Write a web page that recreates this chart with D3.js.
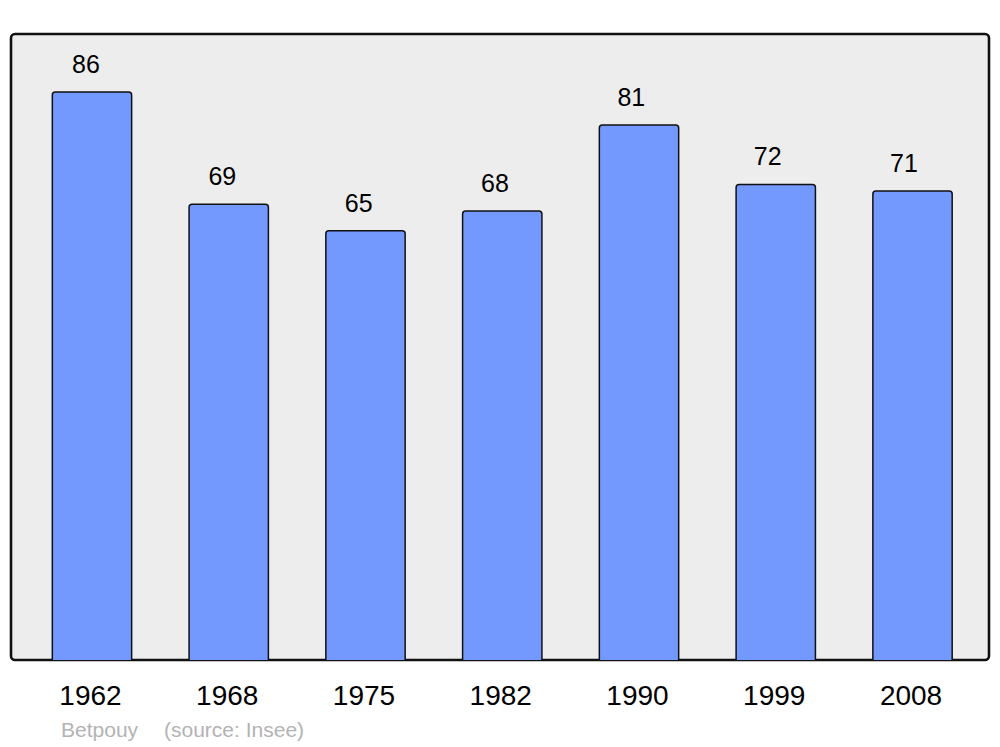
<!DOCTYPE html>
<html><head><meta charset="utf-8">
<script src="https://cdn.jsdelivr.net/npm/d3@7"></script>
<style>body{margin:0;background:#fff}svg{display:block;font-family:"Liberation Sans",Arial,sans-serif}</style>
</head><body><svg id="c" width="1000" height="747"></svg>
<script>
const years = ["1962","1968","1975","1982","1990","1999","2008"];
const population = [86,69,65,68,81,72,71];
const placeName = "Betpouy";
const sourceText = "(source: Insee)";

const svg = d3.select("#c");
const frame = {x0:11, x1:989, y0:34, y1:660};
svg.append("rect").attr("x",frame.x0).attr("y",frame.y0)
  .attr("width",frame.x1-frame.x0).attr("height",frame.y1-frame.y0)
  .attr("rx",4).attr("fill","#ededed").attr("stroke","#111").attr("stroke-width",2.6);

const x = d3.scaleBand().domain(years).range([23.6,980.9]).paddingInner(0.42).paddingOuter(0.21);
const labelX = d3.scalePoint().domain(years).range([86,904]);
const y = d3.scaleLinear().domain([0,94.78]).range([frame.y1,frame.y0]);

function barPath(x0,w,top,bottom,r){
  return `M${x0},${bottom}V${top+r}Q${x0},${top} ${x0+r},${top}H${x0+w-r}Q${x0+w},${top} ${x0+w},${top+r}V${bottom}`;
}
const g = svg.append("g");
g.selectAll("path.bar").data(population).join("path").attr("class","bar")
  .attr("d",(d,i)=>barPath(x(years[i]),x.bandwidth(),y(d),frame.y1,3))
  .attr("fill","#7399ff").attr("stroke","#111").attr("stroke-width",1.5);

g.selectAll("text.val").data(population).join("text").attr("class","val")
  .attr("x",(d,i)=>labelX(years[i])).attr("y",d=>y(d)-19)
  .attr("text-anchor","middle").attr("font-size",25).attr("fill","#000").text(d=>d);

const xAxis = d3.axisBottom(x).tickSize(0).tickPadding(0);
const ax = svg.append("g").attr("transform",`translate(-1.5,${frame.y1})`).call(xAxis);
ax.select(".domain").remove();
ax.selectAll("text").attr("font-size",28).attr("fill","#000").attr("dy",null).attr("y",45)
  .attr("font-family","Liberation Sans, Arial, sans-serif");

svg.append("text").attr("x",61).attr("y",737).attr("font-size",21).attr("fill","#b3b3b3").text(placeName);
svg.append("text").attr("x",164).attr("y",737).attr("font-size",21).attr("fill","#b3b3b3").text(sourceText);
</script></body></html>
